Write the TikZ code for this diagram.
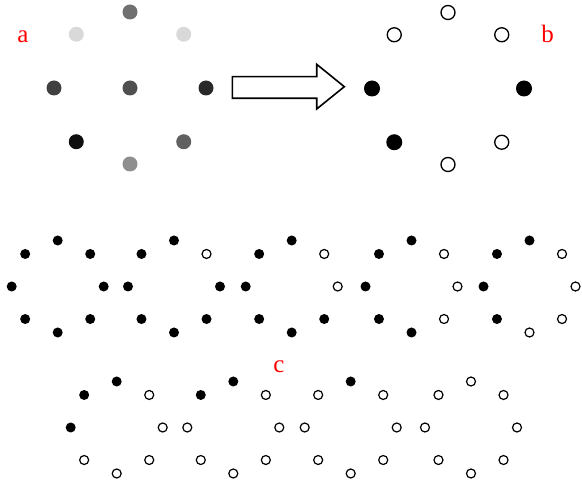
\documentclass[tikz,border=0pt]{standalone}
\usepackage{fontspec}
\setmainfont{Liberation Serif}

\begin{document}
\begin{tikzpicture}[x = 1pt, y = -1pt,
	bigdot/.style = {circle, inner sep = 0pt, minimum size = 15pt},
	bigfull/.style = {circle, fill = black, inner sep = 0pt, minimum size = 16pt},
	bigempty/.style = {circle, draw = black, line width = 1.3pt, fill = white, inner sep = 0pt, minimum size = 14pt},
	full/.style = {circle, fill = black, inner sep = 0pt, minimum size = 10pt},
	empty/.style = {circle, draw = black, line width = 1.2pt, fill = white, inner sep = 0pt, minimum size = 9pt},
	tag/.style = {text = red, anchor = base, font = \fontsize{25}{25}\selectfont}]
	\useasboundingbox (0, 0) rectangle (582, 481);
	
	% cluster a, grey levels
	\node[bigdot, fill = black!69] (a0) at (130, 88) {};
	\foreach \a/\g in {90/56, 135/15, 45/15, 180/75, 0/84, 225/94, 315/62, 270/44}
		\node[bigdot, fill = black!\g] (a\a) at ({130 + 76*cos(\a)}, {88 - 76*sin(\a)}) {};
	\node[tag] (la) at (23, 43) {a};
	
	% arrow
	\draw[line width = 1.6pt] (232.3, 76.7) -- (316.7, 76.7) -- (316.7, 64.3) -- (344.3, 86.7) -- (316.7, 109) -- (316.7, 98.3) -- (232.3, 98.3) -- cycle;
	
	% cluster b
	\foreach \a/\kind in {90/bigempty, 135/bigempty, 45/bigempty, 180/bigfull, 0/bigfull, 225/bigfull, 315/bigempty, 270/bigempty}
		\node[\kind] (b\a) at ({448 + 76*cos(\a)}, {88.5 - 76*sin(\a)}) {};
	\node[tag] (lb) at (547.5, 43) {b};
	
	% row c, one more empty site per ring
	\foreach \cx/\cy [count = \k from 0] in {57.7/286.5, 174/286.5, 291.7/286.5, 411.5/286.5, 529.5/286.5, 116.7/427.5, 233.3/427.5, 350.7/427.5, 471/427.5}
		\foreach \a [count = \j] in {45, 0, -45, -90, -135, 180, 135, 90} {
			\ifnum\j>\k \def\kind{full}\else\def\kind{empty}\fi
			\node[\kind] (c\k-\j) at ({\cx + 46*cos(\a)}, {\cy - 46*sin(\a)}) {};
		}
	\node[tag] (lc) at (279, 372.3) {c};
\end{tikzpicture}
\end{document}
